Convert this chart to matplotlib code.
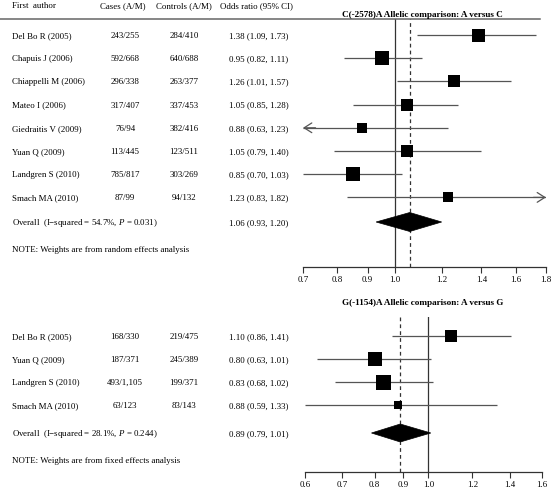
import matplotlib
matplotlib.use('Agg')
import matplotlib.pyplot as plt
from matplotlib.transforms import blended_transform_factory
from matplotlib.patches import Polygon

plt.rcParams['font.family'] = ['Liberation Serif', 'DejaVu Serif']
plt.rcParams['mathtext.fontset'] = 'custom'
plt.rcParams['mathtext.rm'] = 'Liberation Serif'
plt.rcParams['mathtext.it'] = 'Liberation Serif:italic'

# ---------------- data ----------------
header_labels = ["First  author", "Cases (A/M)", "Controls (A/M)", "Odds ratio (95% CI)"]

top_title = "C(-2578)A Allelic comparison: A versus C"
top_authors = ["Del Bo R (2005)", "Chapuis J (2006)", "Chiappelli M (2006)", "Mateo I (2006)",
               "Giedraitis V (2009)", "Yuan Q (2009)", "Landgren S (2010)", "Smach MA (2010)"]
top_cases = ["243/255", "592/668", "296/338", "317/407", "76/94", "113/445", "785/817", "87/99"]
top_controls = ["284/410", "640/688", "263/377", "337/453", "382/416", "123/511", "303/269", "94/132"]
top_or = [1.38, 0.95, 1.26, 1.05, 0.88, 1.05, 0.85, 1.23]
top_lo = [1.09, 0.82, 1.01, 0.85, 0.63, 0.79, 0.70, 0.83]
top_hi = [1.73, 1.11, 1.57, 1.28, 1.23, 1.40, 1.03, 1.82]
top_weight = [13.0, 14.0, 12.7, 12.7, 10.7, 11.3, 13.3, 9.7]   # box side (px)
top_overall = [1.06, 0.93, 1.20]
top_overall_label = "Overall  (I\u2212squared = 54.7%, $\\mathit{P}$ = 0.031)"
top_note = "NOTE: Weights are from random effects analysis"
top_ticks = [0.7, 0.8, 0.9, 1.0, 1.2, 1.4, 1.6, 1.8]

bot_title = "G(-1154)A Allelic comparison: A versus G"
bot_authors = ["Del Bo R (2005)", "Yuan Q (2009)", "Landgren S (2010)", "Smach MA (2010)"]
bot_cases = ["168/330", "187/371", "493/1,105", "63/123"]
bot_controls = ["219/475", "245/389", "199/371", "83/143"]
bot_or = [1.10, 0.80, 0.83, 0.88]
bot_lo = [0.86, 0.63, 0.68, 0.59]
bot_hi = [1.41, 1.01, 1.02, 1.33]
bot_weight = [12.3, 13.3, 15.0, 8.3]
bot_overall = [0.89, 0.79, 1.01]
bot_overall_label = "Overall  (I\u2212squared = 28.1%, $\\mathit{P}$ = 0.244)"
bot_note = "NOTE: Weights are from fixed effects analysis"
bot_ticks = [0.6, 0.7, 0.8, 0.9, 1.0, 1.2, 1.4, 1.6]

# ---------------- figure ----------------
W, H = 551, 489
fig = plt.figure(figsize=(W / 100, H / 100), dpi=100)
FS = 6.4
LINEC = '#555555'


def fx(px):
    return px / W


def fy(py):
    return 1 - py / H


def panel(ax_box, ylim, xlim, title, title_y, authors, cases, controls, orv, lo, hi, wts,
          overall, overall_label, overall_row, note, note_row, ticks, diamond_half, arrows):
    x0, y0, x1, y1 = ax_box
    ax = fig.add_axes([fx(x0), fy(y1), fx(x1) - fx(x0), fy(y0) - fy(y1)])
    ax.set_xscale('log')
    ax.set_xlim(*xlim)
    ax.set_ylim(*ylim)
    for s in ['top', 'left', 'right']:
        ax.spines[s].set_visible(False)
    ax.spines['bottom'].set_color('#333333')
    ax.spines['bottom'].set_linewidth(0.9)
    ax.set_yticks([])
    ax.set_xticks(ticks)
    ax.set_xticks([], minor=True)
    ax.set_xticklabels([f"{t:.1f}" for t in ticks], fontsize=FS)
    ax.tick_params(axis='x', direction='out', length=4, width=0.8, color='#333333', pad=2)
    ax.patch.set_alpha(0)

    # reference lines
    ax.axvline(1.0, color='#333333', lw=0.9, zorder=1)
    ax.axvline(overall[0], color='#333333', lw=0.9, ls=(0, (3, 2.5)), zorder=1)

    tr = blended_transform_factory(fig.transFigure, ax.transData)
    xmin, xmax = xlim
    for i, (a, c, k, o, l, h, w) in enumerate(zip(authors, cases, controls, orv, lo, hi, wts)):
        ax.text(fx(12), i, a, transform=tr, fontsize=FS, va='center', ha='left')
        ax.text(fx(125), i, c, transform=tr, fontsize=FS, va='center', ha='center')
        ax.text(fx(184), i, k, transform=tr, fontsize=FS, va='center', ha='center')
        ax.text(fx(229), i, f"{o:.2f} ({l:.2f}, {h:.2f})", transform=tr, fontsize=FS,
                va='center', ha='left')
        left = max(l, xmin)
        right = min(h, xmax)
        ax.plot([left, right], [i, i], color=LINEC, lw=0.9, zorder=2, solid_capstyle='butt')
        if arrows and l < xmin:
            ax.annotate('', xy=(xmin, i), xytext=(xmin * 1.05, i),
                        arrowprops=dict(arrowstyle='->,head_length=0.55,head_width=0.35',
                                        color=LINEC, lw=0.9, shrinkA=0, shrinkB=0))
        if arrows and h > xmax:
            ax.annotate('', xy=(xmax, i), xytext=(xmax / 1.05, i),
                        arrowprops=dict(arrowstyle='->,head_length=0.55,head_width=0.35',
                                        color=LINEC, lw=0.9, shrinkA=0, shrinkB=0))
        ax.plot([o], [i], marker='s', ms=w * 0.72, color='black', mec='black', mew=0, zorder=3)

    # overall
    ax.text(fx(12), overall_row, overall_label, transform=tr, fontsize=FS, va='center', ha='left')
    ax.text(fx(229), overall_row,
            f"{overall[0]:.2f} ({overall[1]:.2f}, {overall[2]:.2f})",
            transform=tr, fontsize=FS, va='center', ha='left')
    dia = Polygon([[overall[1], overall_row], [overall[0], overall_row - diamond_half],
                   [overall[2], overall_row], [overall[0], overall_row + diamond_half]],
                  closed=True, facecolor='black', edgecolor='black', lw=0.5, zorder=3)
    ax.add_patch(dia)
    ax.text(fx(12), note_row, note, transform=tr, fontsize=FS, va='center', ha='left')

    fig.text(fx(422.5), fy(title_y), title, fontsize=FS + 0.2, fontweight='bold',
             ha='center', va='center')
    return ax


# header
fig.text(fx(12), fy(6), header_labels[0], fontsize=FS, ha='left', va='center')
fig.text(fx(123), fy(6), header_labels[1], fontsize=FS, ha='center', va='center')
fig.text(fx(184), fy(6), header_labels[2], fontsize=FS, ha='center', va='center')
fig.text(fx(220), fy(6), header_labels[3], fontsize=FS, ha='left', va='center')
fig.add_artist(plt.Line2D([fx(0), fx(540)], [fy(19.5), fy(19.5)], color='#666666', lw=1.1))

# top panel: rows at 36 + 23.2*i px
top_sp = 23.2
panel((303, 19.5, 546, 268), ((268 - 36) / top_sp, (19.5 - 36) / top_sp), (0.7, 1.8),
      top_title, 15, top_authors, top_cases, top_controls, top_or, top_lo, top_hi,
      top_weight, top_overall, top_overall_label, (223 - 36) / top_sp, top_note,
      (250 - 36) / top_sp, top_ticks, 9.5 / top_sp, True)

bot_sp = 23.1
panel((305, 318, 542, 473), ((473 - 337) / bot_sp, (318 - 337) / bot_sp), (0.6, 1.6),
      bot_title, 303, bot_authors, bot_cases, bot_controls, bot_or, bot_lo, bot_hi,
      bot_weight, bot_overall, bot_overall_label, (434 - 337) / bot_sp, bot_note,
      (461 - 337) / bot_sp, bot_ticks, 9.0 / bot_sp, False)

fig.savefig('out.png', dpi=100)
